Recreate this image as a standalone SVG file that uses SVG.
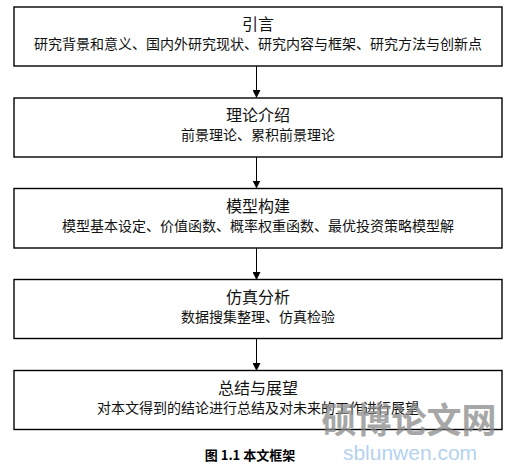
<svg xmlns="http://www.w3.org/2000/svg" width="513" height="471" viewBox="0 0 513 471">
<style>
.box{fill:#fff;stroke:#000;stroke-width:1.4}
.t{font-family:"Noto Sans CJK SC","Liberation Sans",sans-serif;font-size:16px;fill:#111;text-anchor:middle}
.s{font-family:"Noto Sans CJK SC","Liberation Sans",sans-serif;font-size:14px;fill:#111;text-anchor:middle}
.c{stroke:#000;stroke-width:1;fill:none}
.cap{font-family:"Noto Sans CJK SC","Liberation Sans",sans-serif;font-size:13px;font-weight:bold;fill:#000;text-anchor:middle}
</style>
<defs>
<marker id="ah" markerWidth="8" markerHeight="8" refX="7" refY="4" orient="auto" markerUnits="userSpaceOnUse">
<path d="M0,0 L8,4 L0,8 Z" fill="#000"/>
</marker>
</defs>
<rect width="513" height="471" fill="#fff"/>
<g id="connectors">
<line class="c" x1="256.5" y1="66" x2="256.5" y2="97" marker-end="url(#ah)"/>
<line class="c" x1="256.5" y1="157" x2="256.5" y2="187.5" marker-end="url(#ah)"/>
<line class="c" x1="256.5" y1="248" x2="256.5" y2="279" marker-end="url(#ah)"/>
<line class="c" x1="256.5" y1="339" x2="256.5" y2="370" marker-end="url(#ah)"/>
</g>
<g id="n1">
<rect class="box" x="14" y="7" width="488" height="59"/>
<text class="t" x="258" y="30">引言</text>
<text class="s" x="258" y="49">研究背景和意义、国内外研究现状、研究内容与框架、研究方法与创新点</text>
</g>
<g id="n2">
<rect class="box" x="14" y="98" width="488" height="59"/>
<text class="t" x="258" y="121">理论介绍</text>
<text class="s" x="258" y="140">前景理论、累积前景理论</text>
</g>
<g id="n3">
<rect class="box" x="14" y="188.5" width="488" height="59.5"/>
<text class="t" x="258" y="211.5">模型构建</text>
<text class="s" x="258" y="230.5">模型基本设定、价值函数、概率权重函数、最优投资策略模型解</text>
</g>
<g id="n4">
<rect class="box" x="14" y="279.5" width="488" height="59"/>
<text class="t" x="258" y="302.5">仿真分析</text>
<text class="s" x="258" y="321.5">数据搜集整理、仿真检验</text>
</g>
<g id="n5">
<rect class="box" x="14" y="370.5" width="488" height="59"/>
<text class="t" x="258" y="393.5">总结与展望</text>
<text class="s" x="258" y="412.5">对本文得到的结论进行总结及对未来的工作进行展望</text>
</g>
<text class="cap" x="250" y="460">图 1.1 本文框架</text>
<g id="watermark" opacity="0.75">
<text x="409" y="433" font-family="Noto Sans CJK SC,sans-serif" font-size="35" font-weight="bold" fill="#8a8a8a" text-anchor="middle" letter-spacing="0">硕博论文网</text>
<text x="410" y="460" font-family="Liberation Sans,sans-serif" font-size="21" fill="#9cc4ea" text-anchor="middle">sblunwen.com</text>
</g>
</svg>
